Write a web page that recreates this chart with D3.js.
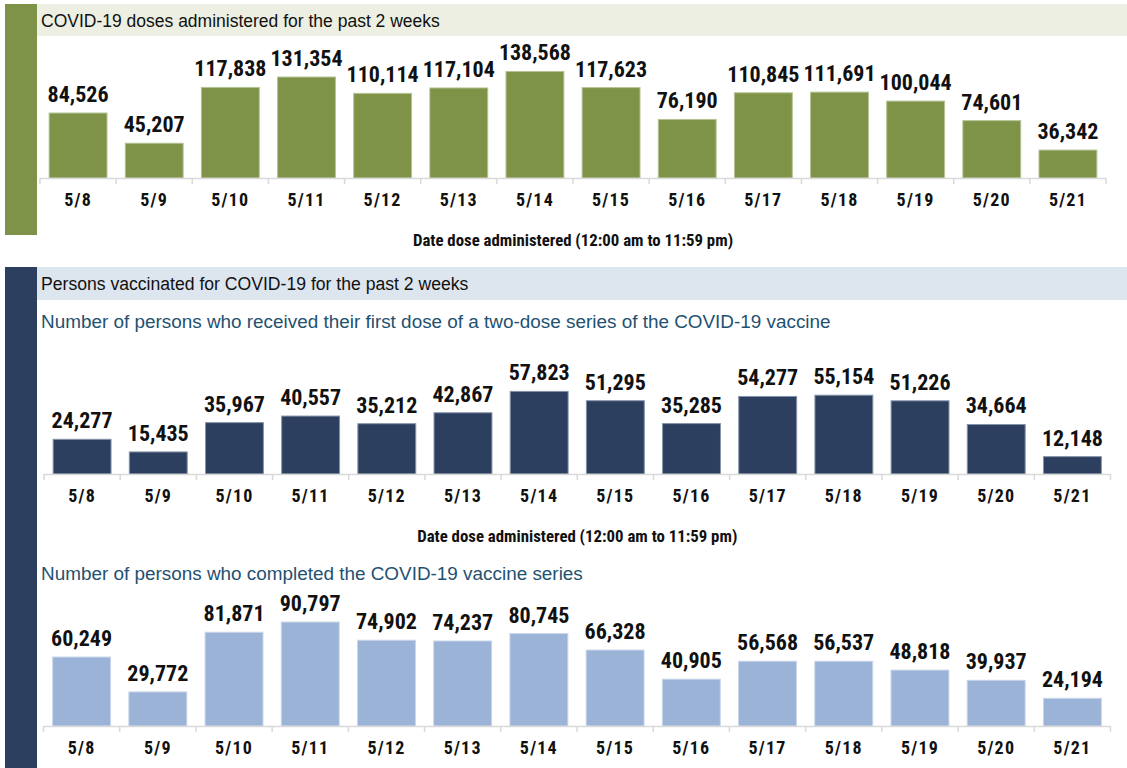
<!DOCTYPE html>
<html><head><meta charset="utf-8">
<script src="https://cdn.jsdelivr.net/npm/d3@7"></script>
<style>
html,body{margin:0;padding:0;background:#fff;}
svg{display:block;}
.narrow{font-family:"Liberation Sans Narrow","Roboto Condensed","DejaVu Sans Condensed",sans-serif;font-weight:bold;}
.reg{font-family:"Liberation Sans",Arial,sans-serif;}
</style></head>
<body>
<svg id="c" width="1127" height="768"></svg>
<script>
const dates = ["5/8","5/9","5/10","5/11","5/12","5/13","5/14","5/15","5/16","5/17","5/18","5/19","5/20","5/21"];
const dosesAdministered = [84526,45207,117838,131354,110114,117104,138568,117623,76190,110845,111691,100044,74601,36342];
const firstDose = [24277,15435,35967,40557,35212,42867,57823,51295,35285,54277,55154,51226,34664,12148];
const completedSeries = [60249,29772,81871,90797,74902,74237,80745,66328,40905,56568,56537,48818,39937,24194];

const titles = {
  p1: "COVID-19 doses administered for the past 2 weeks",
  p2: "Persons vaccinated for COVID-19 for the past 2 weeks",
  s1: "Number of persons who received their first dose of a two-dose series of the COVID-19 vaccine",
  s2: "Number of persons who completed the COVID-19 vaccine series",
  axis: "Date dose administered (12:00 am to 11:59 pm)"
};

const svg = d3.select("#c");
const fmt = d3.format(",");

// Panel decorations
svg.append("rect").attr("x",5).attr("y",4).attr("width",32).attr("height",231).attr("fill","#7E9248");
svg.append("rect").attr("x",37).attr("y",4).attr("width",1090).attr("height",32).attr("fill","#ECEFE2");
svg.append("text").attr("class","reg").attr("x",41).attr("y",27).attr("font-size",17.5).attr("fill","#111").text(titles.p1);

svg.append("rect").attr("x",5).attr("y",267).attr("width",32).attr("height",501).attr("fill","#2C3F5E");
svg.append("rect").attr("x",37).attr("y",267).attr("width",1090).attr("height",33).attr("fill","#DDE5EF");
svg.append("text").attr("class","reg").attr("x",41).attr("y",290).attr("font-size",17.6).attr("fill","#111").text(titles.p2);

svg.append("text").attr("class","reg").attr("x",41).attr("y",328).attr("font-size",18.9).attr("fill","#1F5170").text(titles.s1);
svg.append("text").attr("class","reg").attr("x",41).attr("y",580).attr("font-size",18.9).attr("fill","#1F5170").text(titles.s2);

function barChart(values, opt){
  const g = svg.append("g");
  const x = d3.scaleBand().domain(dates).range([opt.x0, opt.x1]).paddingInner(0.24).paddingOuter(0.12);
  const y = d3.scaleLinear().domain([0, opt.max]).range([opt.base, opt.base - opt.h]);
  const step = x.step();
  const data = dates.map((d,i)=>({d, v: values[i]}));

  g.selectAll("rect.bar").data(data).join("rect").attr("class","bar")
    .attr("x", d=>x(d.d)).attr("width", x.bandwidth())
    .attr("y", d=>y(d.v)).attr("height", d=>opt.base - y(d.v))
    .attr("fill", opt.fill).attr("stroke", opt.stroke).attr("stroke-width",1);

  // axis line and boundary ticks
  const ax = g.append("g").attr("transform",`translate(0,${opt.base})`);
  ax.append("line").attr("x1",opt.x0).attr("x2",opt.x1).attr("y1",0.5).attr("y2",0.5).attr("stroke","#D9D9D9").attr("stroke-width",1.5);
  const bounds = dates.map(d=>x(d) - step*0.12).concat([opt.x1]);
  ax.selectAll("line.tk").data(bounds).join("line").attr("class","tk")
    .attr("x1",d=>d).attr("x2",d=>d).attr("y1",0).attr("y2",6).attr("stroke","#D9D9D9").attr("stroke-width",1.5);

  g.selectAll("text.tl").data(data).join("text").attr("class","tl narrow")
    .attr("x", d=>x(d.d)+x.bandwidth()/2).attr("y", opt.base+28)
    .attr("text-anchor","middle").attr("font-size",18).attr("letter-spacing",1.2).attr("fill","#111").text(d=>d.d);

  g.selectAll("text.vl").data(data).join("text").attr("class","vl narrow")
    .attr("x", d=>x(d.d)+x.bandwidth()/2).attr("y", d=>y(d.v)-11)
    .attr("text-anchor","middle").attr("font-size",22).attr("letter-spacing",0).attr("fill","#111").text(d=>fmt(d.v));

  if(opt.axisTitle){
    g.append("text").attr("class","narrow").attr("x",(opt.x0+opt.x1)/2).attr("y",opt.base+68)
      .attr("text-anchor","middle").attr("font-size",16.8).attr("fill","#111").text(titles.axis);
  }
}

barChart(dosesAdministered, {x0:40, x1:1106, base:178, max:160000, h:123, fill:"#7E9248", stroke:"#B5C394", axisTitle:true});
barChart(firstDose, {x0:44, x1:1110.5, base:474, max:70000, h:100, fill:"#2C3F5E", stroke:"#8593A8", axisTitle:true});
barChart(completedSeries, {x0:43.5, x1:1110.5, base:726, max:100000, h:114.5, fill:"#9BB3D6", stroke:"#C9D6EA", axisTitle:false});
</script>
</body></html>
